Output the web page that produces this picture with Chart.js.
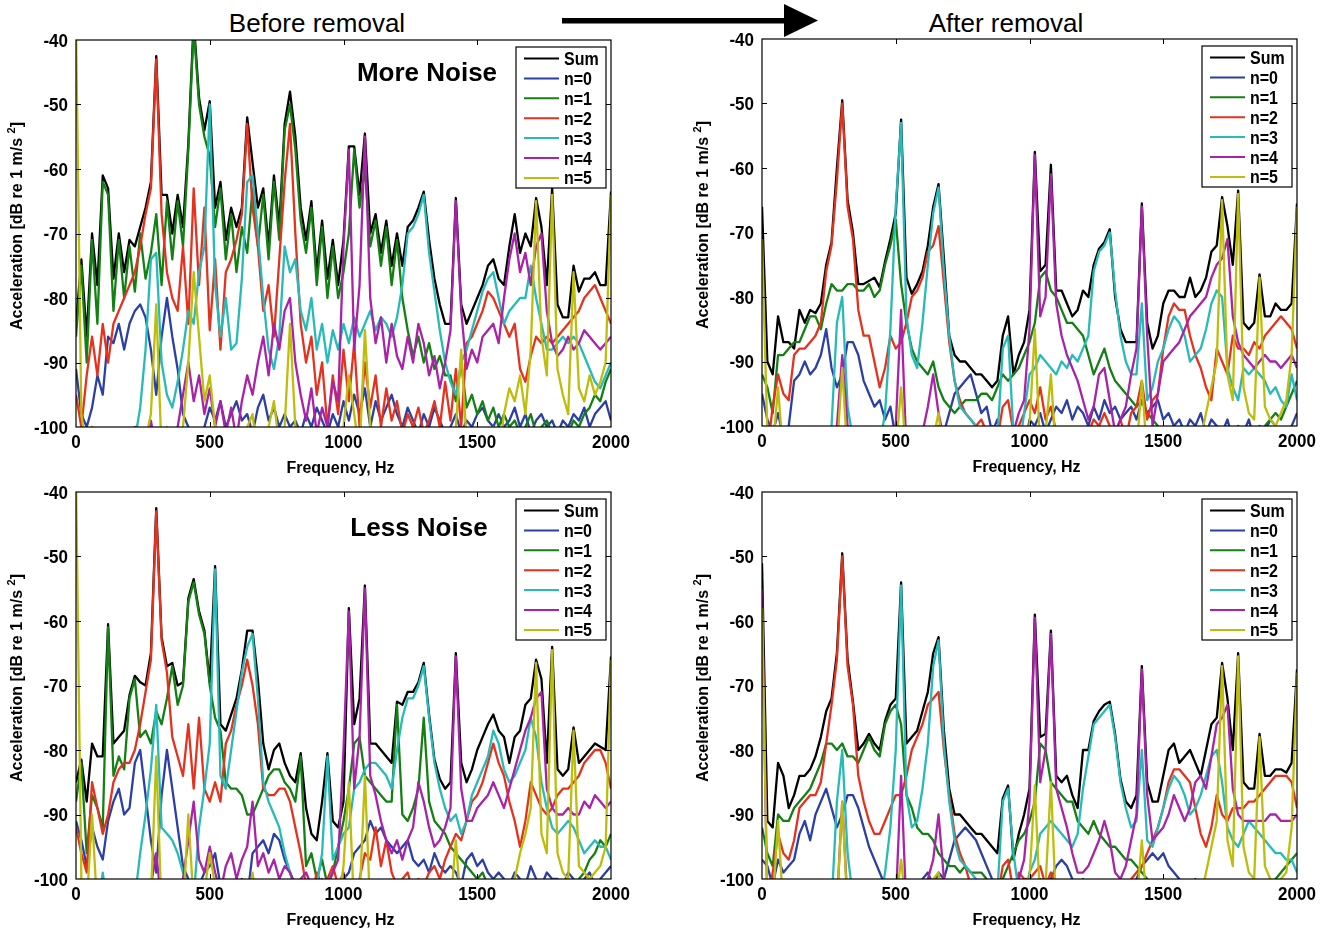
<!DOCTYPE html>
<html>
<head>
<meta charset="utf-8">
<script src="https://cdn.jsdelivr.net/npm/chart.js@4.4.0/dist/chart.umd.min.js"></script>
<style>
  html, body { margin: 0; padding: 0; background: #fff; }
  body { width: 1327px; height: 937px; position: relative; overflow: hidden; }
  canvas { position: absolute; }
  svg.heads { position: absolute; left: 0; top: 0; }
</style>
</head>
<body>
<svg class="heads" width="1327" height="50">
  <text x="317" y="31.5" text-anchor="middle" font-family="Liberation Sans, Arial, sans-serif" font-size="26">Before removal</text>
  <text x="1006" y="31.5" text-anchor="middle" font-family="Liberation Sans, Arial, sans-serif" font-size="26">After removal</text>
  <rect x="562" y="18" width="224" height="5.5" fill="#000"/>
  <polygon points="784,4 818,20.5 784,37" fill="#000"/>
</svg>
<canvas id="bm"></canvas>
<canvas id="am"></canvas>
<canvas id="bl"></canvas>
<canvas id="al"></canvas>
<script>
// ============ DATA (dB re 1 m/s^2, sampled every 20 Hz) ============

const FREQ = [0,20,40,60,80,100,120,140,160,180,200,220,240,260,280,300,320,340,360,380,
  400,420,440,460,480,500,520,540,560,580,600,620,640,660,680,700,720,740,760,780,
  800,820,840,860,880,900,920,940,960,980,1000,1020,1040,1060,1080,1100,1120,1140,1160,1180,
  1200,1220,1240,1260,1280,1300,1320,1340,1360,1380,1400,1420,1440,1460,1480,1500,1520,1540,1560,1580,
  1600,1620,1640,1660,1680,1700,1720,1740,1760,1780,1800,1820,1840,1860,1880,1900,1920,1940,1960,1980,2000];

const SERIES_LABELS = ['Sum', 'n=0', 'n=1', 'n=2', 'n=3', 'n=4', 'n=5'];
const SERIES_COLORS = ['#000000', '#2c3fa5', '#148014', '#e5321f', '#28b9b9', '#a823a8', '#bdbd0b'];
const X_TICKS = [0, 500, 1000, 1500, 2000];
const Y_TICKS = [-100, -90, -80, -70, -60, -50, -40];

// --- Before removal, more noise ---
const BM_SUM = [-84,-74,-86,-70,-78,-61,-63,-77,-70,-76,
  -71,-72,-69,-66,-62,-42.5,-64,-64,-70,-64,
  -69,-56,-37,-49,-54,-49.5,-66,-62,-71,-66,
  -69,-66,-52,-59,-66,-63,-72,-61,-69,-53,
  -48,-55,-66,-71,-65,-76,-68,-77,-71,-78,
  -71,-56.5,-56.5,-64,-54.5,-70,-67,-73,-68,-75,
  -70,-75,-69,-68,-66,-63.5,-71,-77,-81,-84,
  -84,-64.5,-81,-84,-82,-80,-78,-75,-74,-77,
  -78,-72,-67,-73,-70,-72,-64.5,-69,-78,-63,
  -81,-83,-83,-75,-79,-77,-77,-76,-78,-78,-63.5];
const BM_N0 = [-91,-98,-100,-97,-92,-95,-86,-87,-84,-88,
  -84,-82,-81,-83,-88,-95,-86,-80,-86,-91,
  -98,-100,-104,-102,-100,-97,-99,-96,-100,-98,
  -96,-99,-98,-101,-97,-95,-99,-97,-100,-98,
  -100,-99,-101,-98,-100,-97,-99,-101,-98,-100,
  -96,-99,-95,-98,-94,-100,-96,-99,-97,-95,
  -98,-100,-97,-99,-101,-98,-100,-97,-99,-101,
  -100,-98,-101,-99,-100,-98,-97,-99,-100,-98,
  -100,-99,-97,-100,-98,-101,-99,-98,-100,-99,
  -101,-99,-100,-98,-99,-97,-100,-98,-97,-96,-99];
const BM_N1 = [-86,-75,-90,-71,-84,-62,-64,-82,-71,-80,
  -72,-79,-70,-77,-73,-67,-78,-65,-74,-65,
  -72,-57,-38,-50,-55,-58,-69,-63,-74,-67,
  -76,-69,-73,-63,-72,-64,-74,-62,-71,-54,
  -50,-57,-68,-73,-66,-78,-69,-80,-72,-80,
  -76,-70,-57,-66,-60,-72,-68,-75,-69,-78,
  -71,-80,-85,-89,-86,-90,-87,-91,-89,-92,
  -92,-96,-90,-97,-95,-98,-96,-99,-97,-100,
  -98,-100,-99,-101,-100,-98,-101,-100,-99,-101,
  -102,-100,-101,-99,-100,-98,-97,-95,-96,-93,-91];
const BM_N2 = [-95,-100,-92,-86,-92,-84,-90,-84,-82,-80,
  -78,-76,-72,-67,-63,-43,-67,-76,-80,-82,
  -72,-84,-63,-78,-66,-85,-74,-88,-76,-74,
  -71,-67,-53,-66,-72,-82,-78,-86,-74,-62,
  -53,-70,-84,-90,-86,-95,-90,-100,-92,-98,
  -88,-96,-87,-100,-90,-97,-92,-100,-94,-99,
  -96,-101,-98,-100,-97,-101,-99,-96,-100,-93,
  -99,-91,-100,-87,-86,-84,-82,-79,-80,-82,
  -84,-86,-84,-91,-93,-89,-86,-87,-86,-87,
  -86,-85,-84,-83,-82,-80,-79,-78,-80,-82,-84];
const BM_N3 = [-105,-105,-105,-105,-105,-105,-105,-105,-105,-105,
  -105,-102,-97,-88,-74,-73,-90,-95,-97,-93,
  -88,-82,-84,-76,-72,-50,-78,-86,-80,-88,
  -87,-77,-62,-61,-70,-80,-88,-91,-86,-72,
  -76,-74,-82,-85,-80,-88,-84,-90,-85,-88,
  -84,-87,-83,-86,-84,-82,-85,-83,-84,-86,
  -83,-78,-70,-69,-67,-64,-73,-79,-85,-90,
  -93,-95,-90,-88,-85,-82,-79,-77,-76,-80,
  -84,-82,-81,-80,-80,-75,-80,-84,-88,-88,
  -87,-86,-87,-86,-87,-89,-91,-93,-94,-92,-90];
const BM_N4 = [-105,-105,-102,-100,-104,-105,-105,-104,-105,-102,
  -104,-100,-105,-105,-99,-104,-105,-102,-105,-100,
  -95,-90,-96,-92,-98,-94,-100,-96,-101,-97,
  -102,-96,-92,-95,-90,-86,-92,-84,-88,-82,
  -80,-90,-95,-99,-94,-101,-97,-100,-93,-96,
  -72,-57,-88,-78,-55,-80,-87,-83,-90,-84,
  -89,-91,-86,-90,-84,-87,-92,-89,-94,-90,
  -85,-65,-82,-91,-88,-90,-86,-85,-84,-87,
  -80,-74,-70,-76,-73,-78,-72,-70,-82,-87,
  -89,-88,-86,-88,-87,-85,-86,-87,-88,-87,-86];
const BM_N5 = [-38,-98,-104,-100,-105,-105,-105,-105,-105,-105,
  -105,-105,-105,-102,-98,-81,-104,-100,-105,-103,
  -100,-90,-76,-86,-96,-92,-100,-105,-105,-104,
  -105,-102,-100,-98,-105,-104,-100,-96,-103,-100,
  -84,-100,-105,-105,-104,-105,-105,-102,-105,-105,
  -100,-92,-98,-104,-85,-100,-105,-105,-104,-105,
  -105,-105,-103,-105,-105,-104,-105,-105,-102,-105,
  -104,-100,-88,-102,-105,-103,-105,-104,-100,-105,
  -98,-94,-96,-92,-98,-88,-65,-86,-92,-64,
  -91,-95,-98,-76,-94,-96,-92,-95,-93,-90,-64];

// --- After removal, more noise ---
const AM_SUM = [-66,-90,-92,-83,-87,-87,-88,-82,-84,-82,
  -82.5,-81,-75,-71.5,-60,-49.5,-65,-70,-78,-78,
  -77.5,-77,-78.5,-74.5,-71,-67,-52.5,-77,-79.5,-78,
  -76,-72,-66,-62.5,-74,-86,-89,-90,-90,-91,
  -92,-92,-93,-94,-93,-86,-83,-92,-89,-87,
  -82,-57.5,-76,-75,-59.5,-79,-79,-81,-83,-82,
  -79,-80,-75,-72.5,-71.5,-69.5,-80,-85,-87,-87,
  -87,-65.5,-84,-88,-86,-81,-79,-79,-80,-80,
  -77,-80,-79,-77,-73,-72,-64.5,-69,-75,-63.5,
  -84,-85,-84,-76.5,-83,-83,-81,-82,-82,-81,-65.5];
const AM_N0 = [-95,-99,-101,-98,-102,-100,-93,-92,-90,-92,
  -91,-89,-85,-91,-94,-92,-87,-87,-89,-93,
  -95,-97,-96,-99,-97,-102,-104,-105,-103,-105,
  -104,-101,-103,-100,-101,-98,-95,-94,-93,-92,
  -95,-98,-97,-101,-99,-102,-104,-103,-105,-104,
  -99,-100,-98,-101,-99,-97,-98,-96,-99,-97,
  -98,-100,-97,-99,-96,-98,-97,-99,-98,-97,
  -99,-96,-98,-97,-96,-99,-98,-100,-99,-101,
  -99,-100,-98,-101,-99,-100,-101,-99,-102,-100,
  -101,-99,-102,-100,-101,-99,-100,-102,-101,-100,-98];
const AM_N1 = [-92,-94,-98,-89,-89,-88,-87,-87,-85,-83,
  -83,-85,-81,-78,-79,-79,-78,-78,-79,-79,
  -78,-80,-79,-75,-72,-68,-78,-84,-88,-90,
  -91,-92,-90,-94,-96,-97,-98,-97,-96,-96,
  -96,-95,-95,-96,-94,-92,-93,-92,-91,-89,
  -87,-84,-77,-76,-79,-80,-82,-84,-84,-85,
  -86,-89,-92,-90,-88,-91,-93,-94,-95,-96,
  -97,-96,-98,-99,-100,-102,-101,-103,-102,-104,
  -103,-105,-104,-103,-105,-104,-105,-103,-104,-105,
  -104,-103,-105,-102,-100,-99,-98,-99,-97,-95,-93];
const AM_N2 = [-100,-104,-97,-92,-95,-96,-89,-88,-88,-87,
  -86,-84,-76,-72,-62,-50,-66,-71,-82,-86,
  -86,-90,-94,-91,-86,-88,-87,-84,-80,-79,
  -77,-73,-72,-69,-78,-87,-93,-96,-98,-99,
  -100,-99,-101,-100,-102,-97,-96,-101,-100,-98,
  -96,-98,-94,-99,-97,-101,-104,-103,-105,-104,
  -103,-101,-99,-100,-98,-100,-101,-99,-102,-98,
  -97,-93,-99,-96,-95,-88,-83,-81,-82,-82,
  -86,-89,-91,-94,-96,-88,-90,-92,-86,-88,
  -88,-89,-87,-88,-86,-85,-84,-83,-84,-85,-88];
const AM_N3 = [-105,-105,-105,-105,-105,-105,-105,-105,-105,-105,
  -105,-105,-104,-100,-84,-80,-97,-102,-105,-105,
  -105,-104,-103,-98,-85,-66,-53,-83,-89,-91,
  -84,-75,-67,-63,-76,-86,-93,-97,-98,-99,
  -100,-102,-104,-103,-102,-88,-86,-101,-104,-98,
  -92,-91,-89,-90,-91,-92,-90,-91,-89,-90,
  -88,-86,-76,-73,-72,-70,-79,-86,-90,-92,
  -92,-81,-96,-94,-90,-88,-85,-83,-84,-86,
  -90,-89,-88,-85,-81,-79,-80,-91,-94,-96,
  -91,-92,-91,-92,-93,-95,-94,-96,-97,-92,-96];
const AM_N4 = [-105,-104,-105,-105,-105,-105,-105,-105,-105,-105,
  -105,-105,-105,-105,-100,-89,-100,-105,-105,-105,
  -105,-105,-105,-105,-104,-100,-82,-104,-105,-105,
  -101,-97,-92,-98,-102,-105,-105,-105,-105,-105,
  -105,-105,-105,-105,-105,-105,-104,-101,-98,-96,
  -85,-58,-83,-80,-61,-81,-86,-89,-91,-93,
  -96,-99,-97,-92,-91,-96,-101,-99,-97,-92,
  -88,-66,-86,-100,-95,-90,-89,-88,-87,-85,
  -83,-82,-81,-80,-77,-75,-74,-71,-83,-87,
  -89,-90,-91,-90,-89,-90,-90,-91,-90,-89,-91];
const AM_N5 = [-71,-101,-104,-94,-105,-105,-105,-105,-105,-105,
  -105,-105,-105,-105,-104,-91,-105,-105,-105,-105,
  -105,-105,-105,-105,-105,-104,-94,-105,-105,-105,
  -105,-105,-102,-98,-105,-105,-105,-105,-105,-105,
  -105,-105,-105,-105,-105,-105,-105,-105,-105,-105,
  -100,-85,-104,-101,-92,-105,-105,-105,-105,-105,
  -105,-105,-105,-105,-105,-105,-105,-105,-105,-105,
  -104,-93,-105,-105,-105,-105,-105,-105,-105,-105,
  -105,-104,-102,-98,-94,-90,-65,-92,-96,-64,
  -94,-98,-99,-77,-97,-99,-100,-98,-96,-89,-66];

// --- Before removal, less noise ---
const BL_SUM = [-85,-81.5,-88,-79,-81,-81,-60.5,-79,-78,-77,
  -71.5,-68.5,-69.5,-70,-65,-42.5,-62.5,-67,-66.5,-70,
  -69.5,-56.5,-53.5,-58.5,-61.5,-69.5,-51.5,-76,-77,-74.5,
  -72,-67.5,-61.5,-61.5,-69,-79,-83,-80,-79,-82,
  -84,-85,-80.5,-89,-93,-94,-88,-80.5,-91,-92,
  -88,-58,-76,-72,-54.5,-79,-79,-80,-81,-82,
  -72.5,-73,-71,-71,-69.5,-66.5,-74.5,-81.5,-84.5,-86,
  -85,-65,-82,-85,-83,-80,-78,-76,-74.5,-77,
  -78,-82,-78,-77,-73,-72,-66,-69,-82,-64,
  -83,-84,-83,-76.5,-82,-81,-80,-79,-79.5,-80,-65.5];
const BL_N0 = [-91,-94,-98,-92,-95,-97,-91,-88,-86,-90,
  -89,-82,-80,-87,-94,-99,-87,-80,-86,-92,
  -98,-100,-103,-101,-99,-98,-96,-101,-103,-104,
  -102,-100,-103,-96,-95,-94,-96,-93,-94,-97,
  -99,-101,-103,-104,-102,-104,-103,-101,-104,-103,
  -100,-99,-96,-95,-94,-91,-93,-92,-94,-95,
  -96,-95,-94,-97,-98,-97,-99,-96,-98,-99,
  -98,-99,-101,-97,-96,-98,-97,-99,-100,-99,
  -100,-101,-99,-100,-101,-98,-100,-101,-99,-100,
  -100,-101,-99,-100,-102,-100,-99,-101,-100,-99,-98];
const BL_N1 = [-88,-82,-96,-87,-89,-92,-61,-84,-81,-83,
  -72,-69,-78,-77,-79,-74,-76,-72,-67,-73,
  -70,-57,-54,-59,-62,-70,-75,-77,-85,-86,
  -86,-87,-90,-90,-88,-86,-84,-83,-83,-85,
  -86,-88,-81,-98,-96,-100,-97,-101,-99,-95,
  -91,-86,-79,-78,-84,-85,-86,-87,-88,-88,
  -73,-90,-91,-89,-86,-75,-88,-91,-92,-93,
  -95,-96,-97,-98,-99,-100,-99,-101,-100,-102,
  -103,-104,-105,-104,-105,-103,-105,-104,-105,-104,
  -103,-105,-104,-102,-100,-99,-97,-96,-94,-95,-93];
const BL_N2 = [-92,-96,-99,-85,-89,-93,-90,-85,-83,-82,
  -82,-80,-76,-71,-66,-43,-63,-68,-78,-81,
  -84,-76,-86,-75,-86,-88,-85,-88,-79,-77,
  -73,-70,-66,-70,-76,-86,-87,-87,-86,-86,
  -88,-92,-96,-101,-103,-99,-101,-100,-98,-101,
  -99,-102,-101,-100,-96,-97,-92,-98,-94,-99,
  -101,-100,-99,-102,-100,-101,-99,-98,-100,-97,
  -95,-93,-94,-91,-88,-87,-85,-82,-79,-82,
  -84,-88,-91,-95,-91,-85,-87,-89,-90,-89,
  -87,-86,-86,-85,-84,-82,-81,-80,-80,-82,-86];
const BL_N3 = [-105,-105,-105,-105,-105,-99,-105,-105,-105,-105,
  -105,-103,-96,-90,-83,-73,-92,-93,-94,-96,
  -99,-101,-103,-92,-86,-79,-52,-84,-86,-80,
  -74,-68,-64,-62,-72,-85,-88,-90,-92,-96,
  -99,-102,-104,-103,-104,-101,-96,-81,-97,-95,
  -93,-92,-86,-85,-83,-82,-82,-83,-84,-86,
  -80,-75,-72,-72,-70,-67,-75,-82,-86,-89,
  -91,-90,-93,-91,-87,-85,-83,-81,-77,-79,
  -83,-85,-84,-82,-80,-75,-78,-85,-89,-92,
  -93,-92,-91,-92,-94,-96,-95,-94,-95,-95,-97];
const BL_N4 = [-105,-104,-105,-105,-105,-105,-104,-105,-105,-105,
  -105,-105,-103,-104,-101,-96,-104,-105,-105,-102,
  -100,-94,-88,-97,-99,-95,-99,-102,-98,-96,
  -100,-97,-95,-88,-98,-96,-99,-97,-100,-98,
  -99,-101,-100,-99,-101,-102,-100,-101,-99,-97,
  -80,-58.5,-86,-78,-55,-84,-87,-91,-94,-96,
  -94,-97,-94,-92,-85,-88,-92,-95,-94,-92,
  -89,-65.5,-86,-91,-91,-89,-88,-87,-85,-87,
  -89,-86,-83,-80,-77,-75,-72,-71,-86,-89,
  -90,-90,-89,-90,-90,-88,-89,-87,-88,-89,-88];
const BL_N5 = [-38,-100,-104,-90,-105,-105,-105,-105,-105,-105,
  -105,-105,-105,-105,-103,-81,-105,-105,-105,-105,
  -105,-90,-104,-105,-102,-96,-101,-105,-105,-105,
  -105,-105,-104,-99,-105,-105,-105,-105,-105,-105,
  -105,-105,-105,-105,-105,-105,-105,-105,-105,-104,
  -98,-85,-105,-103,-84,-105,-105,-105,-105,-105,
  -101,-105,-105,-105,-105,-105,-105,-105,-105,-105,
  -104,-94,-105,-105,-105,-105,-105,-105,-105,-105,
  -104,-102,-100,-96,-93,-89,-66.5,-93,-96,-64.5,
  -96,-99,-100,-77,-98,-99,-100,-99,-98,-95,-66];

// --- After removal, less noise ---
const AL_SUM = [-51,-91,-92,-82,-84,-89,-87,-84,-84,-83,
  -81,-78,-74,-72,-65,-49.5,-66,-72.5,-80,-79,
  -77.5,-79,-80,-75.5,-73,-72,-54,-79,-78,-77,
  -74,-71,-65,-62.5,-77,-86,-90,-90,-91,-92,
  -93,-93,-94,-95,-96,-87.5,-85.5,-97,-93,-90,
  -86,-59,-78,-77.5,-61.5,-84,-85,-84,-87,-89,
  -80,-80,-75.5,-74,-73,-72.5,-77.5,-84.5,-88,-89,
  -87,-67,-85,-88,-88,-84,-80,-79,-82,-81,
  -80,-82,-84,-80,-76,-75,-66.5,-72,-80,-65,
  -85,-86,-86,-77.5,-84,-84,-83,-83,-83.5,-82,-67.5];
const AL_N0 = [-97,-98,-101,-97,-99,-98,-97,-93,-91,-94,
  -90,-88,-86,-89,-92,-90,-87,-87,-89,-92,
  -95,-97,-99,-101,-103,-104,-105,-104,-103,-105,
  -100,-99,-101,-99,-100,-97,-94,-93,-92,-93,
  -94,-96,-98,-100,-102,-104,-105,-104,-105,-104,
  -101,-102,-100,-101,-100,-98,-97,-98,-100,-101,
  -100,-101,-102,-104,-105,-103,-105,-104,-103,-101,
  -100,-98,-97,-96,-97,-96,-98,-99,-100,-101,
  -102,-100,-103,-101,-102,-104,-101,-103,-102,-104,
  -103,-101,-104,-102,-103,-101,-104,-102,-103,-101,-100];
const AL_N1 = [-92,-96,-98,-90,-91,-91,-89,-88,-87,-86,
  -84,-82,-79,-79,-80,-79,-81,-81,-82,-80,
  -78,-80,-81,-76,-74,-73,-76,-87,-89,-92,
  -93,-93,-94,-96,-97,-98,-98,-99,-98,-99,
  -99,-99,-100,-101,-101,-100,-98,-96,-94,-93,
  -91,-88,-79,-80,-85,-86,-87,-88,-88,-91,
  -92,-93,-91,-93,-94,-95,-95,-96,-97,-97,
  -98,-99,-100,-101,-102,-103,-102,-104,-103,-104,
  -104,-105,-104,-105,-104,-105,-104,-105,-105,-104,
  -105,-104,-103,-104,-102,-101,-100,-99,-98,-97,-96];
const AL_N2 = [-101,-104,-99,-93,-96,-97,-94,-89,-88,-87,
  -87,-85,-79,-73,-66,-50,-67,-73,-84,-88,
  -91,-93,-93,-91,-89,-87,-87,-84,-80,-78,
  -76,-73,-72,-71,-80,-87,-93,-96,-98,-101,
  -103,-104,-105,-104,-103,-98,-97,-102,-99,-100,
  -100,-99,-98,-101,-99,-101,-104,-105,-105,-105,
  -105,-105,-104,-105,-105,-104,-105,-105,-103,-100,
  -99,-98,-96,-94,-92,-89,-85,-83,-83,-84,
  -85,-89,-93,-95,-92,-87,-90,-91,-89,-89,
  -89,-88,-88,-87,-86,-85,-84,-84,-84,-85,-89];
const AL_N3 = [-105,-105,-105,-105,-105,-105,-105,-105,-105,-105,
  -105,-105,-105,-104,-88,-80,-96,-103,-105,-105,
  -105,-105,-104,-99,-92,-80,-54.5,-87,-92,-91,
  -86,-79,-67,-63,-79,-88,-94,-97,-98,-99,
  -100,-102,-104,-103,-102,-88,-86,-96,-102,-103,
  -99,-97,-93,-92,-91,-92,-93,-94,-95,-93,
  -86,-81,-76,-75,-74,-73,-78,-85,-89,-92,
  -91,-80,-94,-95,-92,-89,-86,-84,-85,-87,
  -90,-89,-87,-84,-81,-80,-85,-92,-94,-95,
  -93,-91,-92,-93,-94,-95,-96,-96,-97,-97,-99];
const AL_N4 = [-55,-105,-105,-105,-105,-105,-105,-105,-105,-105,
  -105,-105,-105,-105,-104,-88,-104,-105,-105,-105,
  -105,-105,-105,-105,-105,-104,-84,-105,-105,-105,
  -104,-100,-97,-90,-100,-105,-105,-105,-105,-105,
  -105,-105,-105,-105,-105,-105,-104,-102,-100,-97,
  -88,-59.5,-85,-80,-62,-86,-89,-92,-96,-99,
  -99,-98,-96,-94,-91,-94,-99,-100,-98,-94,
  -90,-67.5,-87,-94,-93,-92,-90,-87,-89,-91,
  -89,-85,-84,-86,-81,-76,-75,-73,-86,-90,
  -91,-91,-91,-91,-91,-90,-90,-91,-91,-91,-90];
const AL_N5 = [-58,-103,-104,-91,-105,-105,-105,-105,-105,-105,
  -105,-105,-105,-105,-104,-88,-105,-105,-105,-105,
  -105,-105,-105,-105,-105,-104,-97,-105,-105,-105,
  -105,-105,-100,-99,-105,-105,-105,-105,-105,-105,
  -105,-105,-105,-105,-105,-105,-105,-105,-105,-105,
  -100,-85.5,-104,-101,-85,-105,-105,-105,-105,-105,
  -101,-105,-105,-105,-105,-105,-105,-105,-105,-105,
  -104,-94,-105,-105,-105,-105,-105,-105,-105,-105,
  -105,-104,-103,-99,-95,-91,-67,-94,-98,-65.5,
  -95,-99,-100,-78,-98,-100,-101,-100,-99,-92,-68];

// ============ LAYOUT ============

const FONT = '"Liberation Sans", Arial, Helvetica, sans-serif';
const PAD_TOP = 10;     // Canvas-Rand über der Plotfläche
const AXIS_H = 58;      // Platz unter der Plotfläche (Ticks + Achsentitel)
const AXIS_W = 76;      // Platz links der Plotfläche
const CANVAS_W = 640;

const PANELS = [
  { id: 'bm', left: 0,   plotTop: 40,  plotBottom: 427, note: 'More Noise', noteX: 427, noteDy: 34,
    series: [BM_SUM, BM_N0, BM_N1, BM_N2, BM_N3, BM_N4, BM_N5] },
  { id: 'am', left: 686, plotTop: 39,  plotBottom: 426, note: null,
    series: [AM_SUM, AM_N0, AM_N1, AM_N2, AM_N3, AM_N4, AM_N5] },
  { id: 'bl', left: 0,   plotTop: 492, plotBottom: 879, note: 'Less Noise', noteX: 419, noteDy: 37,
    series: [BL_SUM, BL_N0, BL_N1, BL_N2, BL_N3, BL_N4, BL_N5] },
  { id: 'al', left: 686, plotTop: 492, plotBottom: 879, note: null,
    series: [AL_SUM, AL_N0, AL_N1, AL_N2, AL_N3, AL_N4, AL_N5] },
];

// Text mit leichter vertikaler Streckung (MATLAB-Export wirkt etwas höher)
function stretchText(ctx, txt, x, y, sy) {
  ctx.save();
  ctx.translate(x, y);
  ctx.scale(1, sy);
  ctx.fillText(txt, 0, 0);
  ctx.restore();
}

// Rahmen, Innen-Ticks, Tick-Labels, Legende, Achsentitel und Panel-Text (MATLAB-Look)
const panelDeco = {
  id: 'panelDeco',
  afterDraw(chart, args, opts) {
    const { ctx, chartArea: a, scales } = chart;
    ctx.save();

    // box
    ctx.strokeStyle = '#000';
    ctx.lineWidth = 1.2;
    ctx.strokeRect(a.left, a.top, a.right - a.left, a.bottom - a.top);

    // inward ticks on all four sides
    ctx.lineWidth = 1;
    ctx.beginPath();
    X_TICKS.slice(1, -1).forEach(v => {
      const x = Math.round(scales.x.getPixelForValue(v)) + 0.5;
      ctx.moveTo(x, a.bottom); ctx.lineTo(x, a.bottom - 5);
      ctx.moveTo(x, a.top);    ctx.lineTo(x, a.top + 5);
    });
    Y_TICKS.slice(1, -1).forEach(v => {
      const y = Math.round(scales.y.getPixelForValue(v)) + 0.5;
      ctx.moveTo(a.left, y);  ctx.lineTo(a.left + 5, y);
      ctx.moveTo(a.right, y); ctx.lineTo(a.right - 5, y);
    });
    ctx.stroke();

    // tick labels
    ctx.fillStyle = '#000';
    ctx.font = 'bold 17px ' + FONT;
    ctx.textBaseline = 'alphabetic';
    ctx.textAlign = 'center';
    X_TICKS.forEach(v => stretchText(ctx, String(v), scales.x.getPixelForValue(v), a.bottom + 21, 1.08));
    ctx.textAlign = 'right';
    Y_TICKS.forEach(v => stretchText(ctx, String(v), a.left - 8, scales.y.getPixelForValue(v) + 6.5, 1.08));

    // legend box
    const bw = 90, bh = 141;
    const bx = a.right - 5 - bw, by = a.top + 7;
    ctx.fillStyle = '#fff';
    ctx.fillRect(bx, by, bw, bh);
    ctx.lineWidth = 1.2;
    ctx.strokeStyle = '#000';
    ctx.strokeRect(bx, by, bw, bh);
    ctx.font = 'bold 16px ' + FONT;
    ctx.textBaseline = 'alphabetic';
    ctx.textAlign = 'left';
    SERIES_LABELS.forEach((lab, k) => {
      const y = by + 11.5 + k * 19.9;
      ctx.strokeStyle = SERIES_COLORS[k];
      ctx.lineWidth = 2;
      ctx.beginPath(); ctx.moveTo(bx + 8, y); ctx.lineTo(bx + 43, y); ctx.stroke();
      ctx.fillStyle = '#000';
      stretchText(ctx, lab, bx + 48, y + 6.5, 1.12);
    });

    // x axis title
    ctx.fillStyle = '#000';
    ctx.font = 'bold 16px ' + FONT;
    ctx.textAlign = 'center';
    ctx.textBaseline = 'middle';
    ctx.fillText('Frequency, Hz', (a.left + a.right) / 2 - 3, a.bottom + 42);

    // y axis title with superscript
    ctx.save();
    ctx.translate(18, a.top + 186);
    ctx.rotate(-Math.PI / 2);
    const main = 'Acceleration [dB re 1 m/s ';
    ctx.font = 'bold 16px ' + FONT;
    const w1 = ctx.measureText(main).width, w3 = ctx.measureText(']').width;
    ctx.font = 'bold 11px ' + FONT;
    const w2 = ctx.measureText('2').width;
    const x0 = -(w1 + w2 + w3) / 2;
    ctx.textAlign = 'left';
    ctx.font = 'bold 16px ' + FONT;
    ctx.fillText(main, x0, 0);
    ctx.font = 'bold 11px ' + FONT;
    ctx.fillText('2', x0 + w1, -6);
    ctx.font = 'bold 16px ' + FONT;
    ctx.fillText(']', x0 + w1 + w2, 0);
    ctx.restore();

    // panel note
    if (opts.note) {
      ctx.font = 'bold 26px ' + FONT;
      ctx.textAlign = 'center';
      ctx.textBaseline = 'middle';
      ctx.fillText(opts.note, opts.noteX, a.top + opts.noteDy);
    }
    ctx.restore();
  }
};

function makePanel(p) {
  const cv = document.getElementById(p.id);
  cv.width = CANVAS_W;
  cv.height = p.plotBottom - p.plotTop + PAD_TOP + AXIS_H;
  cv.style.left = p.left + 'px';
  cv.style.top = (p.plotTop - PAD_TOP) + 'px';

  return new Chart(cv, {
    type: 'line',
    data: {
      datasets: p.series.map((vals, k) => ({
        label: SERIES_LABELS[k],
        data: FREQ.map((f, i) => ({ x: f, y: vals[i] })),
        borderColor: SERIES_COLORS[k],
        borderWidth: 2.3,
        borderJoinStyle: 'round',
        pointRadius: 0,
        tension: 0,
        fill: false,
        clip: 0,
        order: SERIES_LABELS.length - k,   // Sum unten, n=5 oben
      }))
    },
    options: {
      responsive: false,
      animation: false,
      devicePixelRatio: 1,
      events: [],
      layout: { padding: { top: PAD_TOP, right: CANVAS_W - 611, left: 0, bottom: 0 } },
      plugins: {
        legend: { display: false },
        tooltip: { enabled: false },
        panelDeco: { note: p.note, noteX: p.noteX, noteDy: p.noteDy },
      },
      scales: {
        x: {
          type: 'linear', min: 0, max: 2000,
          afterBuildTicks: s => { s.ticks = X_TICKS.map(v => ({ value: v })); },
          afterFit: s => { s.height = AXIS_H; s.paddingLeft = 0; s.paddingRight = 0; },
          grid: { display: false, drawTicks: false },
          border: { display: false },
          ticks: { display: false },
        },
        y: {
          type: 'linear', min: -100, max: -40,
          afterBuildTicks: s => { s.ticks = Y_TICKS.map(v => ({ value: v })); },
          afterFit: s => { s.width = AXIS_W; s.paddingTop = 0; s.paddingBottom = 0; },
          grid: { display: false, drawTicks: false },
          border: { display: false },
          ticks: { display: false },
        }
      }
    },
    plugins: [panelDeco]
  });
}

PANELS.forEach(makePanel);
</script>
</body>
</html>
